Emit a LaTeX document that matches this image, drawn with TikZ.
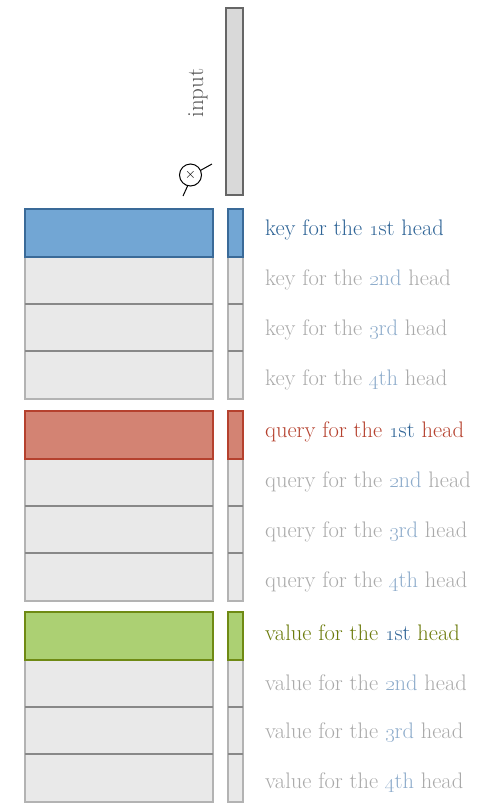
\documentclass[tikz,border=0pt]{standalone}
\usetikzlibrary{calc}
\definecolor{keyfill}{HTML}{72A6D4}
\definecolor{keyline}{HTML}{3A6A98}
\definecolor{qfill}{HTML}{D38373}
\definecolor{qline}{HTML}{B5412E}
\definecolor{vfill}{HTML}{ACD073}
\definecolor{vline}{HTML}{6F8A14}
\definecolor{rowfill}{HTML}{E9E9E9}
\definecolor{rowline}{HTML}{B3B3B3}
\definecolor{sepline}{HTML}{888888}
\definecolor{keytxt}{HTML}{2F6496}
\definecolor{qtxt}{HTML}{B5412E}
\definecolor{vtxt}{HTML}{6B7A0A}
\definecolor{greytxt}{HTML}{AAAAAA}
\definecolor{ordtxt}{HTML}{8EACCB}
\definecolor{inputfill}{HTML}{D9D9D9}
\definecolor{inputline}{HTML}{666666}
\definecolor{inputtxt}{HTML}{555555}
\newcommand{\ord}[2]{\oldstylenums{#1}#2}
\begin{document}
\begin{tikzpicture}[x=1pt,y=-1pt,
  block/.style={draw=rowline, fill=rowfill, line width=2pt, inner sep=0pt},
  sep/.style={draw=sepline, line width=2pt},
  keybox/.style={draw=keyline, fill=keyfill, line width=2pt, inner sep=0pt},
  qbox/.style={draw=qline, fill=qfill, line width=2pt, inner sep=0pt},
  vbox/.style={draw=vline, fill=vfill, line width=2pt, inner sep=0pt},
  lbl/.style={anchor=west, inner sep=0pt, font=\fontsize{22.5}{26}\selectfont},
  inbox/.style={draw=inputline, fill=inputfill, line width=2pt, inner sep=0pt}
]
\useasboundingbox (0,0) rectangle (487,807);

% input
\node[inbox, minimum width=17pt, minimum height=187pt] (input) at (234.5,101) {};
\node[rotate=90, text=inputtxt, inner sep=0pt, font=\fontsize{23}{26}\selectfont] (inlbl) at (198,93) {input};
\node[circle, draw=black, line width=1pt, minimum size=22pt, inner sep=0pt, font=\fontsize{15}{15}\selectfont] (mul) at (190.5,175) {$\times$};
\coordinate (mulA) at (212,164);
\coordinate (mulB) at (183,196);
\draw[line width=1pt] (mul.25) -- (mulA);
\draw[line width=1pt] (mul.255) -- (mulB);

% groups
\foreach \T/\n/\st in {209/k/keybox, 411/q/qbox, 612/v/vbox}{
  \node[block, minimum width=188pt, minimum height=142pt] (\n L) at (119,{\T+119}) {};
  \node[block, minimum width=15pt, minimum height=142pt] (\n R) at (235.5,{\T+119}) {};
  \draw[sep] (25,{\T+95}) -- (213,{\T+95});
  \draw[sep] (228,{\T+95}) -- (243,{\T+95});
  \draw[sep] (25,{\T+142}) -- (213,{\T+142});
  \draw[sep] (228,{\T+142}) -- (243,{\T+142});
  \node[\st, minimum width=188pt, minimum height=48pt] (\n L1) at (119,{\T+24}) {};
  \node[\st, minimum width=15pt, minimum height=48pt] (\n R1) at (235.5,{\T+24}) {};
}

% key labels
\node[lbl, text=keytxt] (k1) at (265,230) {key for the \ord{1}{st} head};
\node[lbl, text=greytxt] (k2) at (265,280) {key for the \textcolor{ordtxt}{\ord{2}{nd}} head};
\node[lbl, text=greytxt] (k3) at (265,330) {key for the \textcolor{ordtxt}{\ord{3}{rd}} head};
\node[lbl, text=greytxt] (k4) at (265,380) {key for the \textcolor{ordtxt}{\ord{4}{th}} head};
% query labels
\node[lbl, text=qtxt] (q1) at (265,432) {query for the \textcolor{keytxt}{\ord{1}{st}} head};
\node[lbl, text=greytxt] (q2) at (265,482) {query for the \textcolor{ordtxt}{\ord{2}{nd}} head};
\node[lbl, text=greytxt] (q3) at (265,532) {query for the \textcolor{ordtxt}{\ord{3}{rd}} head};
\node[lbl, text=greytxt] (q4) at (265,582) {query for the \textcolor{ordtxt}{\ord{4}{th}} head};
% value labels
\node[lbl, text=vtxt] (v1) at (265,633) {value for the \textcolor{keytxt}{\ord{1}{st}} head};
\node[lbl, text=greytxt] (v2) at (265,683) {value for the \textcolor{ordtxt}{\ord{2}{nd}} head};
\node[lbl, text=greytxt] (v3) at (265,733) {value for the \textcolor{ordtxt}{\ord{3}{rd}} head};
\node[lbl, text=greytxt] (v4) at (265,783) {value for the \textcolor{ordtxt}{\ord{4}{th}} head};
\end{tikzpicture}
\end{document}
